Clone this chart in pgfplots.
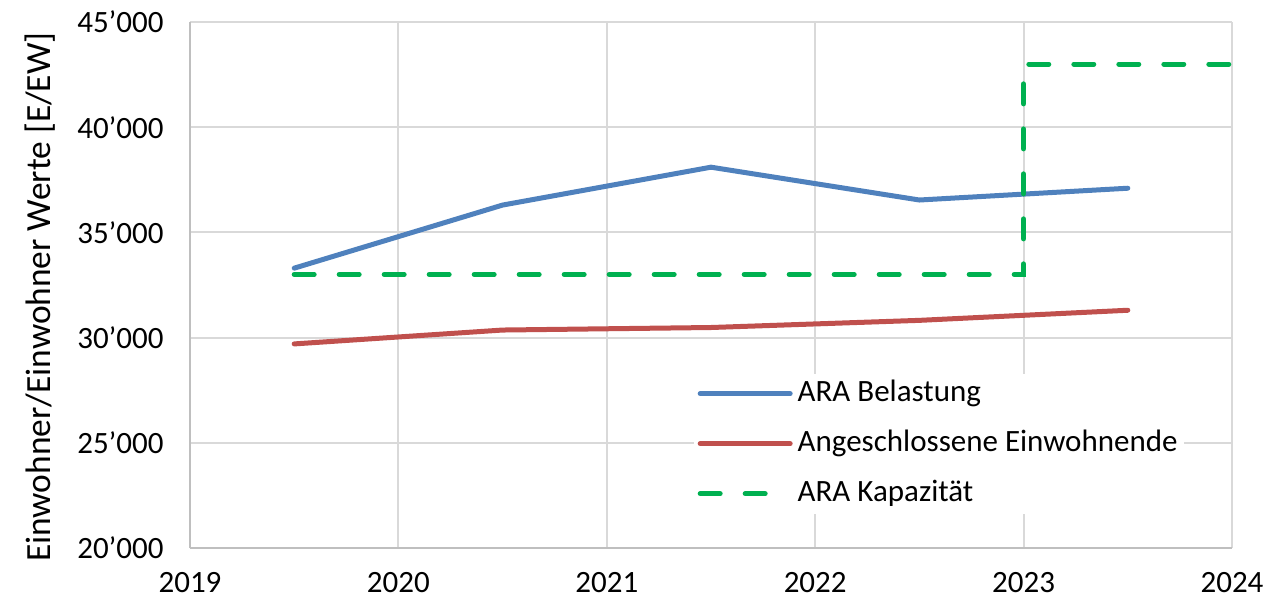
\documentclass[border=0pt]{standalone}
\usepackage{fontspec}
\setmainfont{Carlito}
\usepackage{pgfplots}
\pgfplotsset{compat=1.18}
\definecolor{cblue}{HTML}{4F81BD}
\definecolor{cred}{HTML}{C0504D}
\definecolor{cgreen}{HTML}{00B050}
\definecolor{cgrid}{HTML}{D9D9D9}
\definecolor{caxis}{HTML}{BFBFBF}
\begin{document}
\begin{tikzpicture}
\begin{axis}[
  scale only axis,
  width=521pt, height=263pt,
  xmin=2019, xmax=2024, ymin=20000, ymax=45000,
  scaled y ticks=false, scaled x ticks=false,
  xtick={2019,2020,2021,2022,2023,2024},
  ytick={20000,25000,30000,35000,40000,45000},
  yticklabels={20’000,25’000,30’000,35’000,40’000,45’000},
  x tick label style={/pgf/number format/1000 sep={}, /pgf/number format/assume math mode=true, inner sep=0pt, anchor=north, yshift=-12pt},
  y tick label style={inner sep=0pt, anchor=east, xshift=-13pt},
  tick label style={font=\fontsize{15.5}{18}\selectfont},
  major tick length=0pt,
  axis x line*=bottom, axis y line*=left,
  axis line style={caxis, line width=1.2pt, -},
  grid=major,
  grid style={cgrid, line width=1pt},
  ylabel={Einwohner/Einwohner Werte [E/EW]},
  ylabel style={at={(axis description cs:-0.144,0.477)}, rotate=0, anchor=center, font=\fontsize{17.7}{20}\selectfont},
  legend style={at={(rel axis cs:0.483,0.332)}, anchor=north west, draw=none, fill=white,
    font=\fontsize{15.5}{18}\selectfont, row sep=9pt, inner sep=2pt,
    nodes={inner sep=1pt, text height=11pt, text depth=3pt}},
  legend cell align=left,
  legend image code/.code={\draw[#1] (0pt,0pt) -- (45pt,0pt);},
  clip=false,
]
\addplot[cblue, line width=2.5pt, line cap=round] coordinates {
  (2019.5,33300) (2020.5,36300) (2021.5,38100) (2022.5,36540) (2023.5,37100)};
\addlegendentry{\hspace{1.5pt}ARA Belastung}
\addplot[cred, line width=2.5pt, line cap=round] coordinates {
  (2019.5,29700) (2020.5,30360) (2021.5,30480) (2022.5,30820) (2023.5,31300)};
\addlegendentry{\hspace{1.5pt}Angeschlossene Einwohnende}
\addplot[cgreen, line width=2.5pt, line cap=round, dash pattern=on 10pt off 12.5pt] coordinates {
  (2019.5,33000) (2023,33000) (2023,43000) (2024,43000)};
\addlegendentry{\hspace{1.5pt}ARA Kapazität}
\end{axis}
\pgfresetboundingbox
\path[use as bounding box] ([shift={(-95pt,-26.5pt)}]current axis.south west) rectangle ([shift={(538.5pt,274pt)}]current axis.south west);
\end{tikzpicture}
\end{document}
